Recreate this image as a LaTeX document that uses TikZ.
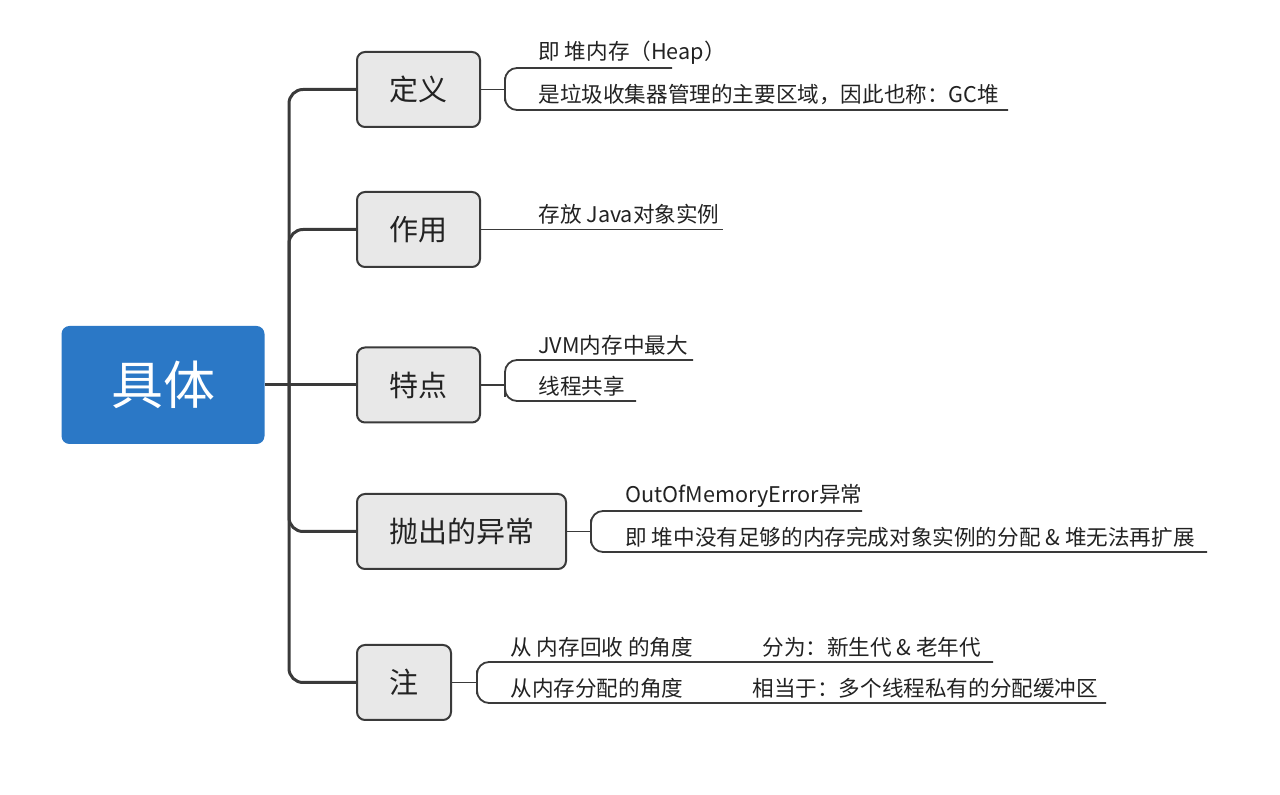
\documentclass[tikz,border=0pt]{standalone}
\usepackage{fontspec}
\setmainfont{Noto Sans CJK SC}
\usetikzlibrary{positioning}

\definecolor{rootblue}{HTML}{2B78C6}
\definecolor{linegray}{HTML}{3A3A3A}
\definecolor{topicgray}{HTML}{E8E8E8}
\definecolor{inkgray}{HTML}{222222}

\begin{document}
\begin{tikzpicture}[x=0.5pt, y=-0.5pt,
    root/.style={fill=rootblue, rounded corners=4pt, minimum width=101.5pt, minimum height=59pt, text=white, font=\fontsize{26}{26}\selectfont},
    topic/.style={draw=linegray, line width=1pt, fill=topicgray, rounded corners=4pt, minimum height=37.5pt, text=inkgray, font=\fontsize{14.5}{14.5}\selectfont},
    trunk/.style={draw=linegray, line width=1.5pt, rounded corners=7pt},
    twig/.style={draw=linegray, line width=0.9pt, rounded corners=6pt},
    leaf/.style={anchor=west, inner sep=0pt, text=inkgray, font=\fontsize{10.8}{10.8}\selectfont}]
    \useasboundingbox (0, 0) rectangle (1280, 795);

    % root and main branches
    \node[root] (ju) at (163, 385) {具体};
    \node[topic, minimum width=61.5pt] (dingyi) at (418.5, 89.5) {定义};
    \node[topic, minimum width=61.5pt] (zuoyong) at (418.5, 229.5) {作用};
    \node[topic, minimum width=61.5pt] (tedian) at (418.5, 385) {特点};
    \node[topic, minimum width=104.5pt] (paochu) at (461.5, 531.5) {抛出的异常};
    \node[topic, minimum width=47pt] (zhu) at (404, 682.5) {注};

    \coordinate (fork) at (289, 385);
    \draw[trunk] (ju.east) -- (tedian.west);
    \draw[trunk] (dingyi.west) -| (fork) |- (zhu.west);
    \draw[trunk] (zuoyong.west) -| (fork);
    \draw[trunk] (paochu.west) -| (fork);

    % 定义
    \coordinate (dyb) at (505, 89.5);
    \coordinate (dy1) at (672, 68);
    \coordinate (dy2) at (1008, 110);
    \draw[twig] (dingyi.east) -- (dyb);
    \draw[twig] (dy1) -| (dyb) |- (dy2);
    \node[leaf] (dy1t) at (538, 53) {即 堆内存（Heap）};
    \node[leaf] (dy2t) at (538, 95) {是垃圾收集器管理的主要区域，因此也称：GC堆};

    % 作用
    \coordinate (zy1) at (723, 229.5);
    \draw[twig] (zuoyong.east) -- (zy1);
    \node[leaf] (zy1t) at (538, 214) {存放 Java对象实例};

    % 特点
    \coordinate (tdb) at (505, 385);
    \coordinate (td1) at (693, 360);
    \coordinate (td2) at (636, 401);
    \draw[twig] (tedian.east) -- (tdb);
    \draw[twig] (td1) -| (tdb) |- (td2);
    \node[leaf] (td1t) at (538, 345) {JVM内存中最大};
    \node[leaf] (td2t) at (538, 386) {线程共享};

    % 抛出的异常
    \coordinate (pcb) at (591, 531.5);
    \coordinate (pc1) at (862, 511);
    \coordinate (pc2) at (1207, 552);
    \draw[twig] (paochu.east) -- (pcb);
    \draw[twig] (pc1) -| (pcb) |- (pc2);
    \node[leaf] (pc1t) at (625, 496) {OutOfMemoryError异常};
    \node[leaf] (pc2t) at (625, 537) {即 堆中没有足够的内存完成对象实例的分配 \& 堆无法再扩展};

    % 注
    \coordinate (zhb) at (477, 682.5);
    \coordinate (zh1) at (993, 662);
    \coordinate (zh2) at (1106, 703);
    \draw[twig] (zhu.east) -- (zhb);
    \draw[twig] (zh1) -| (zhb) |- (zh2);
    \node[leaf] (zh1t) at (510, 647) {从 内存回收 的角度};
    \node[leaf] (zh1r) at (762, 647) {分为：新生代 \& 老年代};
    \node[leaf] (zh2t) at (510, 688) {从内存分配的角度};
    \node[leaf] (zh2r) at (752, 688) {相当于：多个线程私有的分配缓冲区};
\end{tikzpicture}
\end{document}
